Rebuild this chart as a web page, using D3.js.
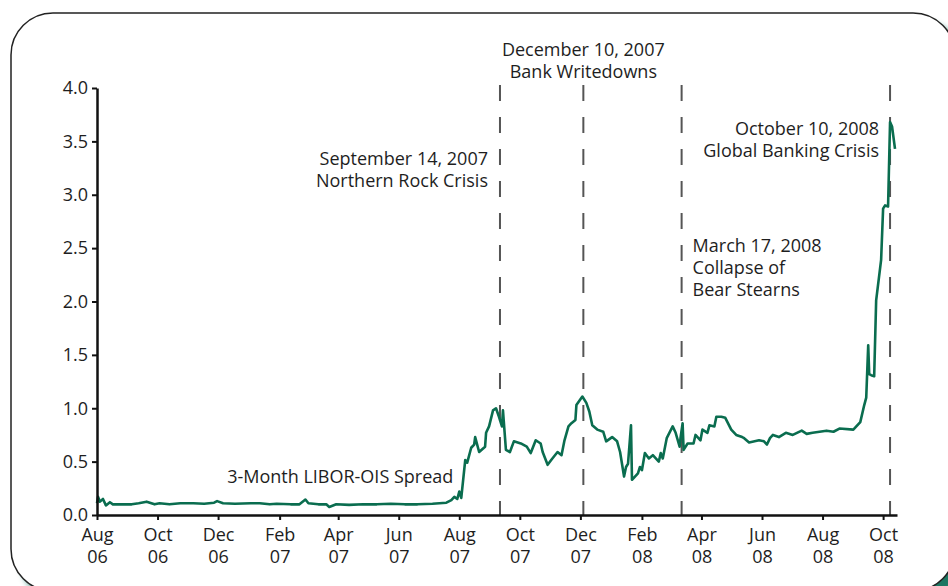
<!DOCTYPE html>
<html>
<head>
<meta charset="utf-8">
<script src="https://cdn.jsdelivr.net/npm/d3@7"></script>
<style>
body { margin: 0; background: #fff; }
svg text { font-family: "Open Sans", sans-serif; font-size: 18px; fill: #1e1e1e; }
</style>
</head>
<body>
<div id="vis"></div>
<script>
// 3-Month LIBOR-OIS spread, percentage points
var dates = [
    "2006-08-01", "2006-08-02", "2006-08-04", "2006-08-07", "2006-08-10", "2006-08-14", "2006-08-17", "2006-08-25",
    "2006-09-05", "2006-09-12", "2006-09-20", "2006-09-28", "2006-10-03", "2006-10-13", "2006-10-24", "2006-11-06",
    "2006-11-17", "2006-11-27", "2006-11-30", "2006-12-06", "2006-12-18",
    "2007-01-03", "2007-01-12", "2007-01-22", "2007-01-29", "2007-02-12", "2007-02-21", "2007-02-27", "2007-03-02",
    "2007-03-12", "2007-03-20", "2007-03-23", "2007-03-30", "2007-04-12", "2007-04-26", "2007-05-10", "2007-05-24",
    "2007-06-07", "2007-06-20", "2007-07-05", "2007-07-19", "2007-07-24", "2007-07-27", "2007-07-30", "2007-08-01",
    "2007-08-03", "2007-08-07", "2007-08-09", "2007-08-13", "2007-08-16", "2007-08-17", "2007-08-21", "2007-08-27",
    "2007-08-28", "2007-08-31", "2007-09-04", "2007-09-07", "2007-09-10", "2007-09-13", "2007-09-14", "2007-09-17",
    "2007-09-21", "2007-09-25", "2007-10-02", "2007-10-08", "2007-10-12", "2007-10-17", "2007-10-22", "2007-10-24",
    "2007-10-29", "2007-11-02", "2007-11-08", "2007-11-12", "2007-11-15", "2007-11-19", "2007-11-22", "2007-11-26",
    "2007-11-27", "2007-12-03", "2007-12-07", "2007-12-10", "2007-12-13", "2007-12-18", "2007-12-24", "2007-12-27",
    "2008-01-02", "2008-01-07", "2008-01-10", "2008-01-14", "2008-01-16", "2008-01-18", "2008-01-21", "2008-01-22",
    "2008-01-28", "2008-01-30", "2008-02-01", "2008-02-04", "2008-02-08", "2008-02-12", "2008-02-18", "2008-02-20",
    "2008-02-22", "2008-02-26", "2008-03-03", "2008-03-06", "2008-03-10", "2008-03-11", "2008-03-13", "2008-03-14",
    "2008-03-18", "2008-03-24", "2008-03-26", "2008-03-31", "2008-04-02", "2008-04-07", "2008-04-09", "2008-04-14",
    "2008-04-16", "2008-04-21", "2008-04-25", "2008-05-01", "2008-05-06", "2008-05-12", "2008-05-14", "2008-05-19",
    "2008-05-29", "2008-06-03", "2008-06-06", "2008-06-09", "2008-06-12", "2008-06-18", "2008-06-25", "2008-07-02",
    "2008-07-11", "2008-07-16", "2008-07-22", "2008-08-05", "2008-08-12", "2008-08-18", "2008-09-01", "2008-09-08",
    "2008-09-12", "2008-09-14", "2008-09-16", "2008-09-17", "2008-09-19", "2008-09-22", "2008-09-24", "2008-09-29",
    "2008-10-01", "2008-10-03", "2008-10-06", "2008-10-08", "2008-10-10", "2008-10-13"
];
var spread = [
    0.11, 0.17, 0.125, 0.15, 0.09, 0.12, 0.10, 0.10,
    0.10, 0.11, 0.125, 0.10, 0.11, 0.10, 0.11, 0.11,
    0.105, 0.115, 0.13, 0.11, 0.105,
    0.11, 0.11, 0.10, 0.105, 0.10, 0.10, 0.145, 0.11,
    0.10, 0.10, 0.075, 0.10, 0.095, 0.10, 0.10, 0.105,
    0.10, 0.10, 0.105, 0.115, 0.14, 0.17, 0.15, 0.22,
    0.16, 0.515, 0.49, 0.63, 0.66, 0.73, 0.59, 0.64,
    0.77, 0.83, 0.98, 1.00, 0.92, 0.83, 0.98, 0.61,
    0.59, 0.69, 0.67, 0.64, 0.58, 0.70, 0.67, 0.59,
    0.47, 0.52, 0.59, 0.56, 0.70, 0.83, 0.86, 0.89,
    1.03, 1.11, 1.05, 0.97, 0.84, 0.80, 0.78, 0.69,
    0.73, 0.69, 0.59, 0.36, 0.45, 0.48, 0.84, 0.33,
    0.39, 0.45, 0.42, 0.58, 0.53, 0.56, 0.50, 0.58,
    0.53, 0.72, 0.83, 0.77, 0.64, 0.73, 0.86, 0.61,
    0.67, 0.67, 0.75, 0.70, 0.80, 0.77, 0.84, 0.83,
    0.92, 0.92, 0.91, 0.80, 0.75, 0.73, 0.72, 0.68,
    0.70, 0.69, 0.66, 0.72, 0.75, 0.73, 0.77, 0.75,
    0.79, 0.76, 0.77, 0.79, 0.78, 0.81, 0.80, 0.87,
    1.03, 1.10, 1.59, 1.32, 1.31, 1.30, 2.01, 2.39,
    2.87, 2.90, 2.89, 3.68, 3.64, 3.43
];

var tickDates = ["2006-08-01", "2006-10-01", "2006-12-01", "2007-02-01", "2007-04-01", "2007-06-01", "2007-08-01",
    "2007-10-01", "2007-12-01", "2008-02-01", "2008-04-01", "2008-06-01", "2008-08-01", "2008-10-01"];
var yTicks = [0, 0.5, 1.0, 1.5, 2.0, 2.5, 3.0, 3.5, 4.0];

// event lines (where they sit in the picture) and their captions
var eventDates = ["2007-09-11", "2007-12-04", "2008-03-12", "2008-10-08"];
var eventLabels = [
    ["September 14, 2007", "Northern Rock Crisis"],
    ["December 10, 2007", "Bank Writedowns"],
    ["March 17, 2008", "Collapse of", "Bear Stearns"],
    ["October 10, 2008", "Global Banking Crisis"]
];
var seriesLabel = "3-Month LIBOR-OIS Spread";

// caption placement: dx from the line in px, baseline in data units
var labelPlace = [
    { dx: -12, v: 3.28, anchor: "end" },
    { dx: 0, v: 4.30, anchor: "middle" },
    { dx: 11, v: 2.46, anchor: "start" },
    { dx: -11, v: 3.56, anchor: "end" }
];

var parse = d3.timeParse("%Y-%m-%d");
var W = 948, H = 586;
var margin = { top: 88, left: 97, right: 51, bottom: 71 };
var width = W - margin.left - margin.right;
var height = H - margin.top - margin.bottom;

var root = d3.select("#vis").append("svg")
    .attr("width", W)
    .attr("height", H);

// card with teal shadow
var defs = root.append("defs");
defs.append("filter")
    .attr("id", "blur")
    .attr("x", "-10%").attr("y", "-10%")
    .attr("width", "130%").attr("height", "130%")
    .append("feGaussianBlur")
    .attr("stdDeviation", 3);

root.append("rect")
    .attr("x", 21).attr("y", 23)
    .attr("width", 944).attr("height", 578)
    .attr("rx", 42)
    .attr("fill", "#1a7762")
    .attr("filter", "url(#blur)");

root.append("rect")
    .attr("x", 11).attr("y", 13)
    .attr("width", 944).attr("height", 578)
    .attr("rx", 42)
    .attr("fill", "#fff")
    .attr("stroke", "#222")
    .attr("stroke-width", 1.5);

var svg = root.append("g")
    .attr("transform", "translate(" + margin.left + "," + margin.top + ")");

var xscale = d3.scaleTime()
    .domain([parse("2006-08-01"), parse("2008-10-15")])
    .range([0, width]);

var yscale = d3.scaleLinear()
    .domain([0, 4])
    .range([height, 0]);

// dashed event lines
svg.selectAll(".event")
    .data(eventDates)
    .enter()
    .append("line")
    .attr("class", "event")
    .attr("x1", function (d) { return xscale(parse(d)); })
    .attr("x2", function (d) { return xscale(parse(d)); })
    .attr("y1", yscale(4) - 3)
    .attr("y2", yscale(0))
    .attr("stroke", "#555")
    .attr("stroke-width", 2)
    .attr("stroke-dasharray", "16,16");

// captions
eventLabels.forEach(function (lines, i) {
    var p = labelPlace[i];
    var t = svg.append("text")
        .attr("text-anchor", p.anchor)
        .attr("x", xscale(parse(eventDates[i])) + p.dx)
        .attr("y", yscale(p.v));
    lines.forEach(function (s, j) {
        t.append("tspan")
            .attr("x", xscale(parse(eventDates[i])) + p.dx)
            .attr("dy", j === 0 ? 0 : 22)
            .text(s);
    });
});

svg.append("text")
    .attr("text-anchor", "end")
    .attr("x", xscale(parse("2007-07-26")))
    .attr("y", yscale(0.30))
    .text(seriesLabel);

// the series
var points = dates.map(function (d, i) {
    return { date: parse(d), value: spread[i] };
});

var line = d3.line()
    .x(function (d) { return xscale(d.date); })
    .y(function (d) { return yscale(d.value); });

svg.append("path")
    .datum(points)
    .attr("fill", "none")
    .attr("stroke", "#0a6d4f")
    .attr("stroke-width", 2.6)
    .attr("stroke-linejoin", "round")
    .attr("d", line);

// axes
var yaxis = d3.axisLeft(yscale)
    .tickValues(yTicks)
    .tickSize(5)
    .tickSizeOuter(0)
    .tickPadding(4)
    .tickFormat(d3.format(".1f"));

var xaxis = d3.axisBottom(xscale)
    .tickValues(tickDates.map(parse))
    .tickSize(5)
    .tickSizeOuter(0)
    .tickFormat("");

var gx = svg.append("g")
    .attr("class", "x axis")
    .attr("transform", "translate(0," + height + ")")
    .call(xaxis);

var gy = svg.append("g")
    .attr("class", "y axis")
    .call(yaxis);

svg.selectAll(".axis .domain")
    .attr("stroke", "#111")
    .attr("stroke-width", 2.5);
svg.selectAll(".axis .tick line")
    .attr("stroke", "#111")
    .attr("stroke-width", 2);

gx.selectAll(".tick").each(function (d) {
    var t = d3.select(this).append("text")
        .attr("text-anchor", "middle")
        .attr("y", 26);
    t.append("tspan").attr("x", 0).text(d3.timeFormat("%b")(d));
    t.append("tspan").attr("x", 0).attr("dy", 22).text(d3.timeFormat("%y")(d));
});
</script>
</body>
</html>
